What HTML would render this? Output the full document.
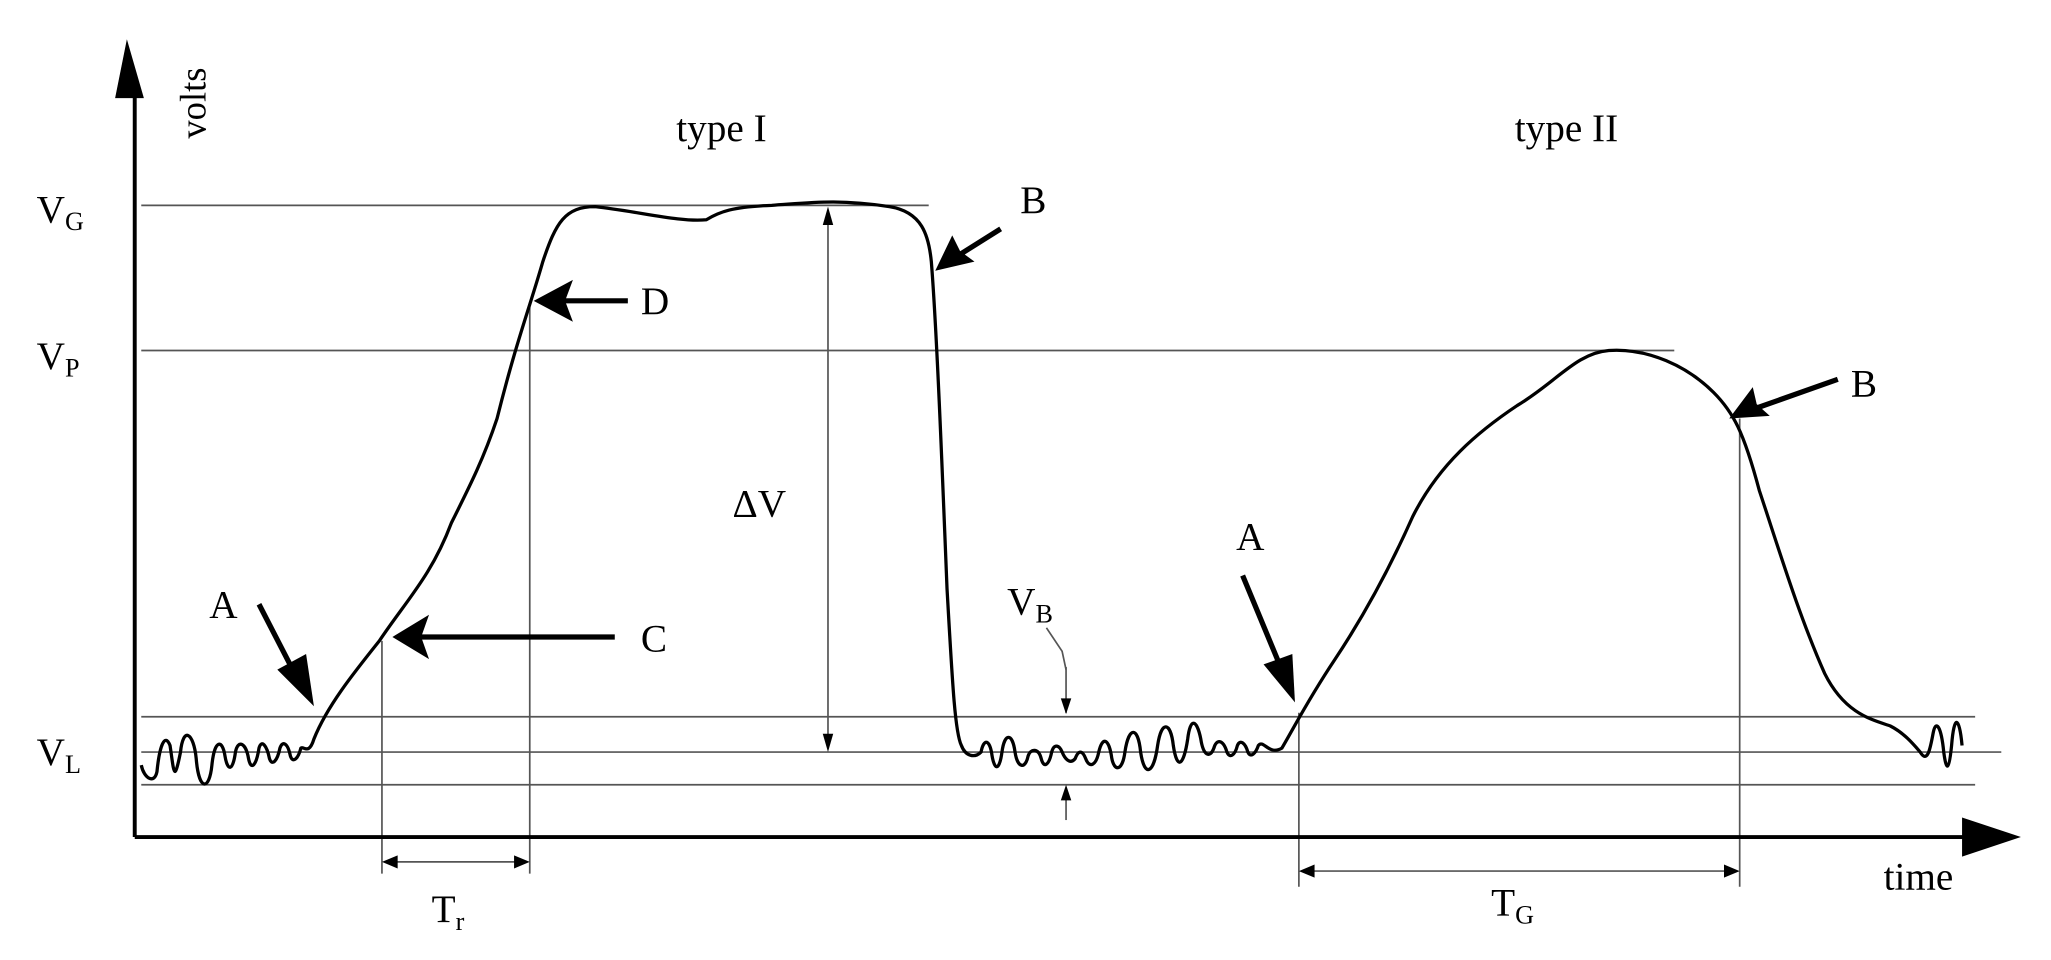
<!DOCTYPE html>
<html><head><style>html,body{margin:0;padding:0;background:#fff}svg{display:block}</style></head>
<body>
<svg width="2051" height="960" viewBox="0 0 1568 734" preserveAspectRatio="none" xmlns="http://www.w3.org/2000/svg" font-family="Liberation Serif, serif" font-size="30">
<g stroke="#555" stroke-width="1.3" fill="none">
<line x1="108" y1="157" x2="710" y2="157"/>
<line x1="108" y1="268" x2="1280" y2="268"/>
<line x1="108" y1="548" x2="1510" y2="548"/>
<line x1="108" y1="575" x2="1530" y2="575"/>
<line x1="108" y1="600" x2="1510" y2="600"/>
<line x1="292" y1="490" x2="292" y2="668"/>
<line x1="405" y1="235" x2="405" y2="668"/>
<line x1="993" y1="545" x2="993" y2="678"/>
<line x1="1330" y1="320" x2="1330" y2="678"/>
<line x1="633" y1="162" x2="633" y2="572"/>
<line x1="296" y1="659" x2="401" y2="659"/>
<line x1="997" y1="666" x2="1326" y2="666"/>
<line x1="815" y1="510" x2="815" y2="545"/>
<line x1="815" y1="603" x2="815" y2="627"/>
<polyline points="800,480 812,498 815,512"/>
</g>
<g fill="#000">
<polygon points="633,158 629,172 637,172"/><polygon points="633,575 629,561 637,561"/>
<polygon points="292,659 304,654 304,664"/><polygon points="405,659 393,654 393,664"/>
<polygon points="993,666 1005,661 1005,671"/><polygon points="1330,666 1318,661 1318,671"/>
<polygon points="815,546 811,534 819,534"/><polygon points="815,600 811,612 819,612"/>
</g>
<g stroke="#000" stroke-width="3" fill="none">
<line x1="103" y1="60" x2="103" y2="640"/>
<line x1="103" y1="640" x2="1510" y2="640"/>
</g>
<polygon points="97,30 88,75 110,75" fill="#000"/>
<polygon points="1545,640 1500,625 1500,655" fill="#000"/>
<path stroke="#000" stroke-width="2.5" fill="none" stroke-linejoin="round" d="M108,585 C110,595 118,600 120,590 C122,570 126,560 130,570 C133,590 133,600 138,575 C140,555 148,560 150,580 C152,605 160,605 162,585 C164,565 170,565 172,578 C174,590 178,590 180,575 C182,565 188,568 190,580 C192,590 196,585 198,572 C200,565 204,570 206,580 C208,586 212,582 214,572 C216,566 220,568 222,578 C224,584 228,580 230,572 C232,570 236,578 240,565
C250,540 270,515 290,490 C310,460 330,440 345,400 C360,370 370,350 380,320 C395,260 405,235 415,200 C425,170 432,158 455,158 C490,162 520,170 540,168 C550,162 560,158 590,157 C620,155 640,152 680,158 C705,162 710,180 712,200 C716,250 720,350 724,450 C728,520 730,560 735,570 C738,578 745,580 750,575
C752,565 756,565 758,575 C760,590 764,590 766,575 C768,560 774,560 776,575 C778,588 784,588 786,578 C788,572 794,572 796,580 C798,588 802,585 804,575 C806,568 810,570 812,575 C814,580 818,585 822,580 C825,572 828,575 830,580 C833,588 838,585 840,575 C843,562 848,565 850,580 C852,590 858,590 860,575 C863,555 870,555 872,575 C875,595 882,592 885,570 C888,550 895,552 897,570 C900,590 905,585 908,565 C910,548 915,550 918,565 C920,578 925,580 928,572 C930,565 935,565 938,575 C940,580 944,578 946,570 C948,565 952,568 954,575 C956,580 960,576 962,570 C966,565 970,578 980,572
C990,555 1000,535 1020,505 C1040,475 1060,440 1080,395 C1100,355 1130,330 1160,310 C1190,292 1205,270 1230,268 C1260,266 1290,280 1310,300 C1325,315 1333,330 1345,375 C1360,420 1375,470 1395,515 C1410,545 1430,550 1445,555 C1455,560 1462,568 1468,575 C1474,585 1476,570 1478,560 C1480,550 1484,555 1486,575 C1488,590 1490,590 1492,570 C1494,545 1498,548 1500,570"/>
<g stroke="#000" stroke-width="4" fill="none">
<line x1="198" y1="462" x2="232" y2="528"/>
<line x1="470" y1="487" x2="318" y2="487"/>
<line x1="480" y1="230" x2="425" y2="230"/>
<line x1="765" y1="175" x2="730" y2="197"/>
<line x1="1405" y1="290" x2="1340" y2="313"/>
<line x1="950" y1="440" x2="984" y2="522"/>
</g>
<g fill="#000">
<polygon points="240,540 212,512 234,500"/>
<polygon points="300,487 328,470 322,487 328,504"/>
<polygon points="408,230 438,214 432,230 438,246"/>
<polygon points="715,207 728,180 734,192 745,200"/>
<polygon points="1322,320 1340,296 1343,309 1353,318"/>
<polygon points="990,537 966,508 988,500"/>
</g>
<g fill="#000">
<text x="157" y="106" transform="rotate(-90 157 106)" font-size="28">volts</text>
<text x="517" y="108">type I</text>
<text x="1158" y="108">type II</text>
<text x="28" y="170">V<tspan font-size="20" dy="6">G</tspan></text>
<text x="28" y="282">V<tspan font-size="20" dy="6">P</tspan></text>
<text x="28" y="585">V<tspan font-size="20" dy="6">L</tspan></text>
<text x="160" y="472">A</text>
<text x="490" y="498">C</text>
<text x="490" y="240">D</text>
<text x="780" y="163">B</text>
<text x="1415" y="303">B</text>
<text x="945" y="420">A</text>
<text x="560" y="395">ΔV</text>
<text x="770" y="470">V<tspan font-size="20" dy="6">B</tspan></text>
<text x="330" y="705">T<tspan font-size="20" dy="6">r</tspan></text>
<text x="1140" y="700">T<tspan font-size="20" dy="6">G</tspan></text>
<text x="1440" y="680">time</text>
</g>
</svg>
</body></html>
